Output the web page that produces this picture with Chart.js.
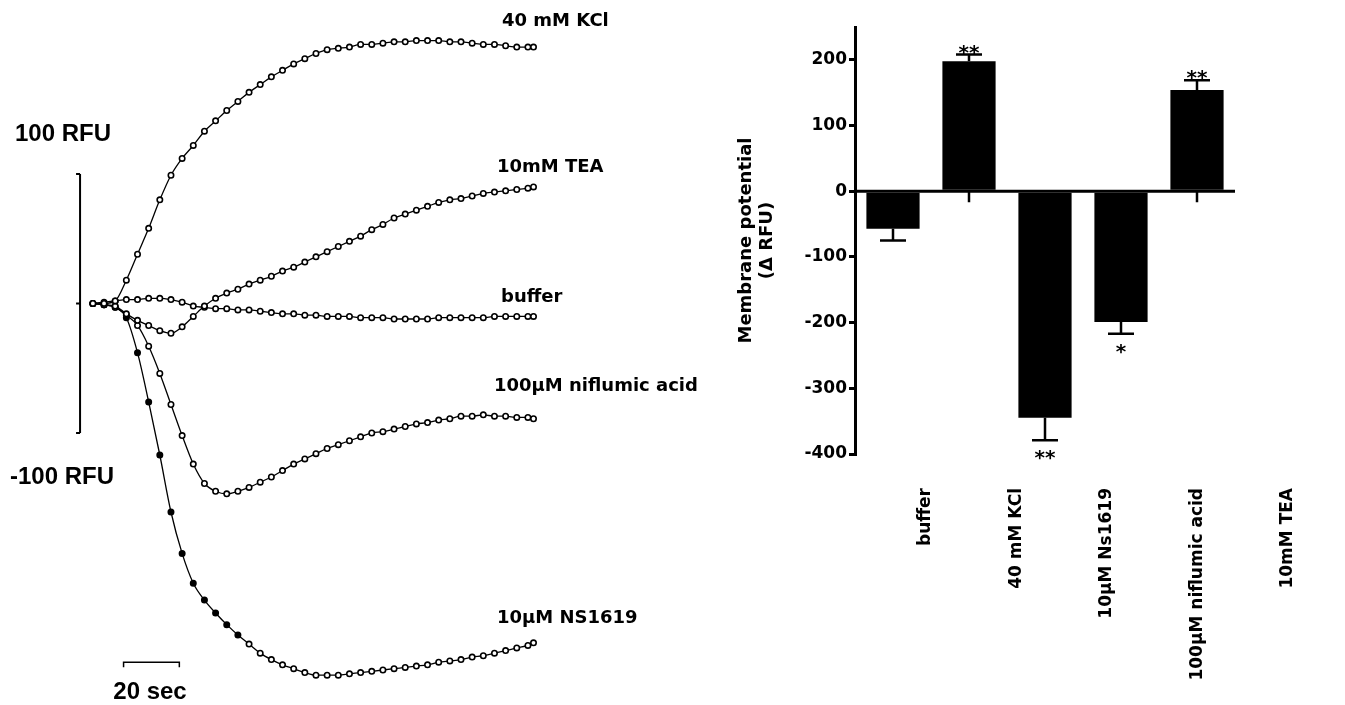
<!DOCTYPE html>
<html>
<head>
<meta charset="utf-8">
<script src="https://cdn.jsdelivr.net/npm/chart.js@4.4.0/dist/chart.umd.min.js"></script>
<style>
    body { margin: 0; background: #fff; width: 1345px; height: 705px; overflow: hidden; position: relative; }
    #trazas { position: absolute; left: 0; top: 0; }
    #barras { position: absolute; left: 720px; top: 0; }
</style>
</head>
<body>
<canvas id="trazas" width="712" height="705"></canvas>
<canvas id="barras" width="625" height="705"></canvas>
<script>
// trazas (RFU) cada 4 s
const segundos = [0, 4, 8, 12, 16, 20, 24, 28, 32, 36, 40, 44, 48, 52, 56, 60, 64, 68, 72, 76, 80,
    84, 88, 92, 96, 100, 104, 108, 112, 116, 120, 124, 128, 132, 136, 140, 144, 148, 152, 156, 158];
const kcl = [0, 0, 2, 18, 38, 58, 80, 99, 112, 122, 133, 141, 149, 156, 163, 169, 175, 180, 185, 189, 193,
    196, 197, 198, 200, 200, 201, 202, 202, 203, 203, 203, 202, 202, 201, 200, 200, 199, 198, 198, 198];
const tea = [0, -1, -2, -8, -13, -17, -21, -23, -18, -10, -2, 4, 8, 11, 15, 18, 21, 25, 28, 32, 36,
    40, 44, 48, 52, 57, 61, 66, 69, 72, 75, 78, 80, 81, 83, 85, 86, 87, 88, 89, 90];
const buffer = [0, 1, 2, 3, 3, 4, 4, 3, 1, -2, -3, -4, -4, -5, -5, -6, -7, -8, -8, -9, -9,
    -10, -10, -10, -11, -11, -11, -12, -12, -12, -12, -11, -11, -11, -11, -11, -10, -10, -10, -10, -10];
const niflumico = [0, -1, -3, -9, -17, -33, -54, -78, -102, -124, -139, -145, -147, -145, -142, -138, -134, -129, -124, -120, -116,
    -112, -109, -106, -103, -100, -99, -97, -95, -93, -92, -90, -89, -87, -87, -86, -87, -87, -88, -88, -89];
const ns1619 = [0, -1, -3, -11, -38, -76, -117, -161, -193, -216, -229, -239, -248, -256, -263, -270, -275, -279, -282, -285, -287,
    -287, -287, -286, -285, -284, -283, -282, -281, -280, -279, -277, -276, -275, -273, -272, -270, -268, -266, -264, -262];

// barras
const categorias = ['buffer', '40 mM KCl', '10\u03bcM Ns1619', '100\u03bcM niflumic acid', '10mM TEA'];
const valores = [-57, 198, -345, -199, 154];
const errores = [18, 10, 34, 18, 15];
const asteriscos = ['', '**', '**', '*', '**'];

const escalaRFU = 100;
const escalaSeg = 20;

function serie(vals) {
    return vals.map((v, i) => ({ x: segundos[i], y: v }));
}

function datasetTraza(vals, relleno) {
    return {
        data: serie(vals),
        showLine: true,
        borderColor: '#000',
        borderWidth: 1.3,
        pointRadius: 2.7,
        pointBorderWidth: 1.6,
        pointBorderColor: '#000',
        pointBackgroundColor: relleno || '#fff',
        cubicInterpolationMode: 'monotone',
        clip: false
    };
}

const anotacionesTrazas = {
    id: 'anotacionesTrazas',
    afterDraw(chart) {
        const ctx = chart.ctx;
        const x = chart.scales.x, y = chart.scales.y;
        ctx.save();
        ctx.strokeStyle = '#000';
        ctx.fillStyle = '#000';

        // barra vertical 100 RFU
        let bx = x.getPixelForValue(-4.6);
        let yt = y.getPixelForValue(escalaRFU), yb = y.getPixelForValue(-escalaRFU), ym = y.getPixelForValue(0);
        ctx.lineWidth = 2;
        ctx.beginPath();
        ctx.moveTo(bx, yt); ctx.lineTo(bx, yb);
        [yt, ym, yb].forEach(p => { ctx.moveTo(bx - 4, p); ctx.lineTo(bx, p); });
        ctx.stroke();

        // barra 20 sec
        let x1 = x.getPixelForValue(11), x2 = x.getPixelForValue(11 + escalaSeg), hy = y.getPixelForValue(-277);
        ctx.lineWidth = 1.5;
        ctx.beginPath();
        ctx.moveTo(x1, hy + 5); ctx.lineTo(x1, hy); ctx.lineTo(x2, hy); ctx.lineTo(x2, hy + 5);
        ctx.stroke();

        ctx.textBaseline = 'middle';
        ctx.font = 'bold 24px "Liberation Sans", Arial, sans-serif';
        ctx.textAlign = 'left';
        ctx.fillText('100 RFU', 15, 134);
        ctx.fillText('-100 RFU', 10, 477);
        ctx.textAlign = 'center';
        ctx.fillText('20 sec', 150, 692);

        ctx.textAlign = 'left';
        ctx.font = 'bold 18px "DejaVu Sans", sans-serif';
        ctx.fillText('40 mM KCl', 502, 21);
        ctx.fillText('10mM TEA', 497, 167);
        ctx.fillText('buffer', 501, 297);
        ctx.fillText('100\u03bcM niflumic acid', 494, 386);
        ctx.fillText('10\u03bcM NS1619', 497, 618);
        ctx.restore();
    }
};

new Chart(document.getElementById('trazas'), {
    type: 'scatter',
    data: {
        datasets: [
            datasetTraza(kcl),
            datasetTraza(tea),
            datasetTraza(buffer),
            datasetTraza(niflumico),
            datasetTraza(ns1619, (c) => c.dataIndex < 14 ? '#000' : '#fff')
        ]
    },
    options: {
        responsive: false,
        animation: false,
        layout: { padding: { left: 65, top: 3, right: 3, bottom: 13 } },
        plugins: { legend: { display: false }, tooltip: { enabled: false } },
        scales: {
            x: { type: 'linear', min: -10, max: 220, display: false },
            y: { min: -300, max: 230, display: false }
        }
    },
    plugins: [anotacionesTrazas]
});

const barrasError = {
    id: 'barrasError',
    afterDatasetsDraw(chart) {
        const ctx = chart.ctx;
        const y = chart.scales.y;
        const area = chart.chartArea;
        const y0 = y.getPixelForValue(0);
        ctx.save();
        ctx.strokeStyle = '#000';
        ctx.fillStyle = '#000';
        ctx.lineWidth = 3;
        ctx.beginPath();
        ctx.moveTo(area.left, y0); ctx.lineTo(area.right, y0);
        ctx.stroke();

        ctx.font = 'bold 20px "DejaVu Sans", sans-serif';
        ctx.textAlign = 'center';
        ctx.textBaseline = 'alphabetic';
        chart.getDatasetMeta(0).data.forEach((bar, i) => {
            let v = valores[i], s = v >= 0 ? 1 : -1;
            let ya = y.getPixelForValue(v), yc = y.getPixelForValue(v + s * errores[i]);
            ctx.lineWidth = 2.5;
            ctx.beginPath();
            ctx.moveTo(bar.x, ya); ctx.lineTo(bar.x, yc);
            ctx.moveTo(bar.x - 13, yc); ctx.lineTo(bar.x + 13, yc);
            if (v > 0) { ctx.moveTo(bar.x, y0); ctx.lineTo(bar.x, y0 + 11); }
            ctx.stroke();
            if (asteriscos[i]) {
                ctx.fillText(asteriscos[i], bar.x, s > 0 ? yc + 4 : yc + 24);
            }
        });

        // etiquetas de categoria
        ctx.font = 'bold 17px "DejaVu Sans", sans-serif';
        ctx.textAlign = 'right';
        ctx.textBaseline = 'middle';
        categorias.forEach((c, i) => {
            ctx.save();
            ctx.translate(area.left + 71 + 90.5 * i, area.bottom + 34);
            ctx.rotate(-Math.PI / 2);
            ctx.fillText(c, 0, 0);
            ctx.restore();
        });
        ctx.restore();
    }
};

new Chart(document.getElementById('barras'), {
    type: 'bar',
    data: {
        labels: categorias,
        datasets: [{
            data: valores,
            backgroundColor: '#000',
            barPercentage: 0.7,
            categoryPercentage: 1
        }]
    },
    options: {
        responsive: false,
        animation: false,
        layout: { padding: { top: 27, right: 110, bottom: 251, left: 0 } },
        plugins: { legend: { display: false }, tooltip: { enabled: false } },
        scales: {
            x: { display: false },
            y: {
                min: -400,
                max: 250,
                afterBuildTicks: (s) => { s.ticks = s.ticks.filter(t => t.value % 100 === 0); },
                afterFit: (s) => { s.width = 135; },
                ticks: { stepSize: 100, color: '#000', padding: 2, font: { family: 'DejaVu Sans', weight: 'bold', size: 17 } },
                grid: { drawOnChartArea: false, tickLength: 6, lineWidth: 3, color: '#000' },
                border: { width: 3, color: '#000' },
                title: {
                    display: true,
                    text: ['Membrane potential', '(\u0394 RFU)'],
                    color: '#000',
                    padding: { top: 16, bottom: 0 },
                    font: { family: 'DejaVu Sans', weight: 'bold', size: 18, lineHeight: 1.15 }
                }
            }
        }
    },
    plugins: [barrasError]
});
</script>
</body>
</html>
